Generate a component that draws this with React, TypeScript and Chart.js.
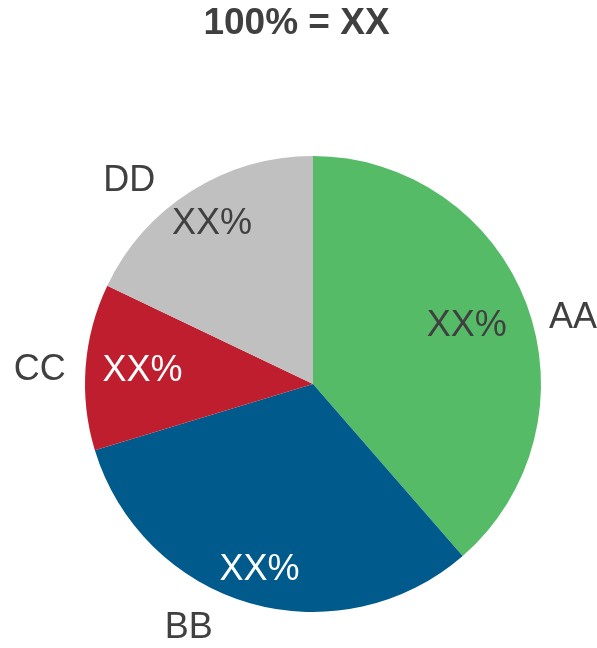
import React, { useEffect, useRef } from "react";
import { Chart, registerables } from "chart.js";

Chart.register(...registerables);

const titleText = "100% = XX";
const categories = ["AA", "BB", "CC", "DD"];
const values = [38.6, 31.7, 11.8, 17.9];
const valueLabels = ["XX%", "XX%", "XX%", "XX%"];

// layout tweaks for the labels (relative to each slice's geometry)
const outerLabelShiftDeg = [6.5, 11, -1.5, -10];
const innerLabelRadiusFrac = [0.72, 0.85, 0.75, 0.83];

const sliceColors = ["#55BB67", "#005A8C", "#BE1E2E", "#C0C0C0"];
const innerTextColors = ["#404040", "#FFFFFF", "#FFFFFF", "#404040"];
const TEXT_COLOR = "#404040";
const FONT = "'Liberation Sans', Arial, sans-serif";

const labelPlugin = {
  id: "pieLabels",
  afterDatasetsDraw(chart: any) {
    const ctx = chart.ctx;
    const meta = chart.getDatasetMeta(0);
    ctx.save();
    ctx.textBaseline = "middle";
    ctx.textAlign = "center";
    ctx.fillStyle = TEXT_COLOR;
    ctx.font = `bold 37px ${FONT}`;
    ctx.fillText(titleText, chart.width / 2 - 2, 24);
    ctx.font = `36px ${FONT}`;
    meta.data.forEach((arc: any, i: number) => {
      const { x, y, startAngle, endAngle, outerRadius } = arc.getProps(
        ["x", "y", "startAngle", "endAngle", "outerRadius"],
        true
      );
      const mid = (startAngle + endAngle) / 2;
      const ri = outerRadius * innerLabelRadiusFrac[i];
      ctx.fillStyle = innerTextColors[i];
      ctx.fillText(valueLabels[i], x + Math.cos(mid) * ri, y + Math.sin(mid) * ri);
      const a = mid + (outerLabelShiftDeg[i] * Math.PI) / 180;
      const d = outerRadius * 1.2;
      const w = ctx.measureText(categories[i]).width;
      let lx = x + Math.cos(a) * d;
      lx = Math.min(Math.max(lx, w / 2), chart.width - w / 2);
      ctx.fillStyle = TEXT_COLOR;
      ctx.fillText(categories[i], lx, y + Math.sin(a) * d);
    });
    ctx.restore();
  },
};

export default function App() {
  const canvasRef = useRef<HTMLCanvasElement | null>(null);

  useEffect(() => {
    document.body.style.margin = "0";
    const canvas = canvasRef.current;
    if (!canvas) return;
    const chart = new Chart(canvas, {
      type: "pie",
      data: {
        labels: categories,
        datasets: [
          {
            data: values,
            backgroundColor: sliceColors,
            borderWidth: 0,
          },
        ],
      },
      options: {
        responsive: false,
        animation: false,
        devicePixelRatio: 1,
        layout: { padding: { left: 85, right: 56, top: 156, bottom: 36 } },
        plugins: {
          legend: { display: false },
          tooltip: { enabled: false },
          title: { display: false },
        },
      },
      plugins: [labelPlugin],
    });
    return () => chart.destroy();
  }, []);

  return (
    <div style={{ width: 597, height: 648, background: "#fff" }}>
      <canvas ref={canvasRef} width={597} height={648} style={{ display: "block" }} />
    </div>
  );
}
